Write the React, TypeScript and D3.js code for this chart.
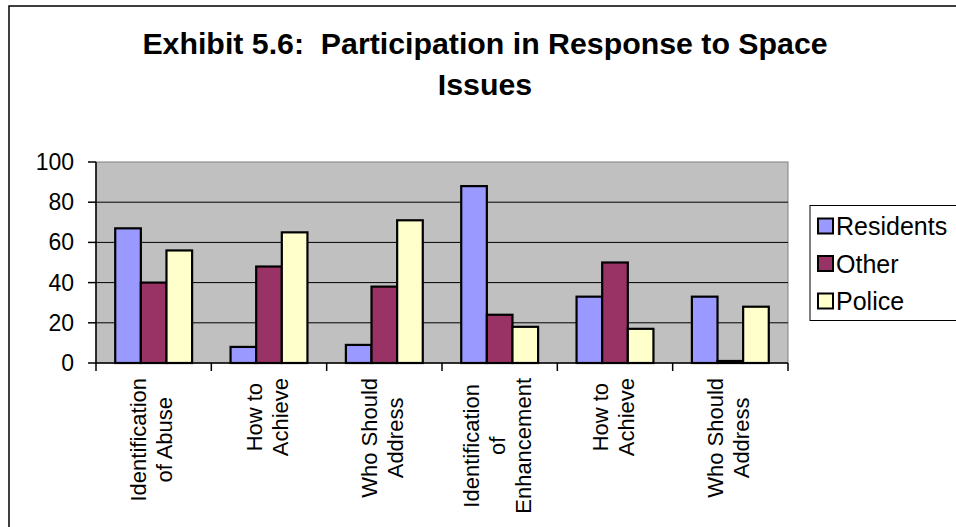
import React, { useMemo } from "react";
import * as d3 from "d3";

// Chart data
const categories: string[][] = [
  ["Identification", "of Abuse"],
  ["How to", "Achieve"],
  ["Who Should", "Address"],
  ["Identification", "of", "Enhancement"],
  ["How to", "Achieve"],
  ["Who Should", "Address"],
];
const seriesNames = ["Residents", "Other", "Police"];
const residents = [67, 8, 9, 88, 33, 33];
const other = [40, 48, 38, 24, 50, 1];
const police = [56, 65, 71, 18, 17, 28];
const seriesColors = ["#9999FF", "#993366", "#FFFFCC"];
const yTicks = [0, 20, 40, 60, 80, 100];
const titleLines = ["Exhibit 5.6:  Participation in Response to Space", "Issues"];

const FONT = "'Liberation Sans', Arial, Helvetica, sans-serif";

const W = 956;
const H = 527;
const plot = { left: 96, right: 788, top: 162, bottom: 363 };

function measure(text: string, size: number): number {
  const c = document.createElement("canvas").getContext("2d");
  if (!c) return text.length * size * 0.5;
  c.font = `${size}px 'Liberation Sans', Arial, sans-serif`;
  return c.measureText(text).width;
}

export default function App() {
  const values = [residents, other, police];

  const x = d3
    .scaleBand<number>()
    .domain(d3.range(categories.length))
    .range([plot.left, plot.right])
    .paddingInner(0)
    .paddingOuter(0);

  const xs = d3
    .scaleBand<number>()
    .domain(d3.range(seriesNames.length))
    .range([0, x.bandwidth()])
    .paddingInner(0)
    .paddingOuter(0.75);

  const y = d3.scaleLinear().domain([0, 100]).range([plot.bottom, plot.top]);

  const labelSize = 22;
  const lineGap = 26;
  const labelTop = 378;

  const labelWidths = useMemo(
    () => categories.map((lines) => d3.max(lines, (l) => measure(l, labelSize)) || 0),
    []
  );

  const boundaries = d3.range(categories.length + 1).map((i) =>
    i < categories.length ? (x(i) as number) : plot.right
  );

  return (
    <svg
      width={W}
      height={H}
      style={{ position: "absolute", left: 0, top: 0, background: "#fff" }}
      fontFamily={FONT}
    >
      {/* chart frame */}
      <rect x={9} y={6} width={1100} height={700} fill="#fff" stroke="#000" strokeWidth={1.5} />

      {/* title */}
      {titleLines.map((t, i) => (
        <text
          key={i}
          x={485}
          y={54 + i * 41}
          textAnchor="middle"
          fontSize={30.3}
          fontWeight="bold"
          fill="#000"
          xmlSpace="preserve"
          style={{ whiteSpace: "pre" }}
        >
          {t}
        </text>
      ))}

      {/* plot area */}
      <rect
        x={plot.left}
        y={plot.top}
        width={plot.right - plot.left}
        height={plot.bottom - plot.top}
        fill="#C0C0C0"
        stroke="#808080"
        strokeWidth={1}
      />

      {/* gridlines */}
      {yTicks
        .filter((t) => t > 0 && t < 100)
        .map((t) => (
          <line
            key={t}
            x1={plot.left}
            x2={plot.right}
            y1={y(t)}
            y2={y(t)}
            stroke="#000"
            strokeWidth={1}
          />
        ))}

      {/* bars */}
      {categories.map((_, ci) =>
        seriesNames.map((_, si) => {
          const v = values[si][ci];
          const bx = (x(ci) as number) + (xs(si) as number);
          return (
            <rect
              key={`${ci}-${si}`}
              x={bx}
              y={y(v)}
              width={xs.bandwidth()}
              height={y(0) - y(v)}
              fill={seriesColors[si]}
              stroke="#000"
              strokeWidth={2.2}
            />
          );
        })
      )}

      {/* y axis */}
      <line x1={plot.left} x2={plot.left} y1={plot.top} y2={plot.bottom} stroke="#000" strokeWidth={1.5} />
      {yTicks.map((t) => (
        <g key={t}>
          <line x1={plot.left - 8} x2={plot.left} y1={y(t)} y2={y(t)} stroke="#000" strokeWidth={1.5} />
          <text
            x={plot.left - 22}
            y={y(t)}
            textAnchor="end"
            dominantBaseline="central"
            fontSize={23}
            fill="#000"
          >
            {t}
          </text>
        </g>
      ))}

      {/* x axis */}
      <line x1={plot.left} x2={plot.right} y1={plot.bottom} y2={plot.bottom} stroke="#000" strokeWidth={1.5} />
      {boundaries.map((bx, i) => (
        <line key={i} x1={bx} x2={bx} y1={plot.bottom} y2={plot.bottom + 8} stroke="#000" strokeWidth={1.5} />
      ))}

      {/* category labels */}
      {categories.map((lines, ci) => {
        const cx = (x(ci) as number) + x.bandwidth() / 2 - 2;
        const mid = labelTop + labelWidths[ci] / 2;
        return lines.map((line, li) => {
          const lx = cx + (li - (lines.length - 1) / 2) * lineGap;
          return (
            <text
              key={`${ci}-${li}`}
              transform={`translate(${lx},${mid}) rotate(-90)`}
              textAnchor="middle"
              dominantBaseline="central"
              fontSize={labelSize}
              fill="#000"
            >
              {line}
            </text>
          );
        });
      })}

      {/* legend */}
      <rect x={810} y={205.5} width={200} height={115} fill="#fff" stroke="#000" strokeWidth={1} />
      {seriesNames.map((name, i) => {
        const cy = 226 + i * 37.5;
        return (
          <g key={name}>
            <rect x={818} y={cy - 7.5} width={15} height={15} fill={seriesColors[i]} stroke="#000" strokeWidth={2} />
            <text x={836} y={cy} dominantBaseline="central" fontSize={25} fill="#000">
              {name}
            </text>
          </g>
        );
      })}
    </svg>
  );
}
